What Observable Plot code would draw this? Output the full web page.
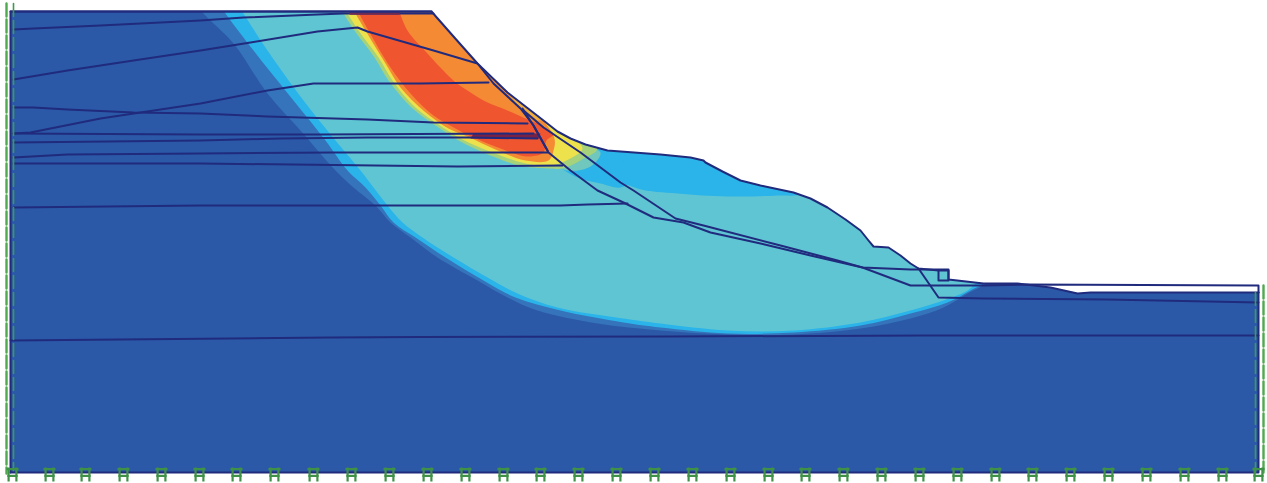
<!DOCTYPE html>
<html><head><meta charset="utf-8">
<script src="https://cdn.jsdelivr.net/npm/d3@7"></script>
<script src="https://cdn.jsdelivr.net/npm/@observablehq/plot@0.6"></script>
<style>html,body{margin:0;padding:0;background:#fff;overflow:hidden}svg{display:block;filter:blur(0.6px)}</style>
</head><body><div id="chart"></div>
<script>
// Model outline and zones, read in picture units (x rightwards, depth downwards)
const ground = [[10,11],[1258,11],[1258,472],[10,472]];
const surface = [[10,11],[431,11],[453,36],[477,63],[507,92],[525,106],[543,120],[557,131],[570,138],[585,144],[607,150],[660,154],[690,157],[703,160],[705,162],[722,171],[740,180],[760,185],[793,192],[810,198],[827,207],[845,219],[860,230],[868,240],[873,246],[888,247],[900,255],[910,263],[918,268],[938,270],[948,270],[948,279],[983,283],[1017,283],[1050,287],[1077,293],[1090,292],[1258,292]];
const mediumEdge = [[197,5],[203,13],[233,43],[267,93],[300,130],[335,170],[353,187],[375,205],[390,222],[410,237],[437,257],[477,280],[507,297],[537,310],[597,323],[660,330],[727,334],[793,334],[860,328],[910,318],[943,307],[967,293],[990,280]];
const lightEdge = [[220,5],[225,13],[253,50],[293,100],[325,140],[347,170],[365,187],[380,205],[393,222],[415,237],[445,257],[483,280],[515,297],[560,310],[623,322],[660,327],[727,333],[793,332],[860,325],[910,313],[947,302],[970,290],[987,280]];
const tealEdge = [[238,5],[243,13],[267,50],[303,100],[335,140],[360,170],[373,187],[387,205],[402,222],[422,237],[453,257],[487,277],[517,293],[557,307],[623,318],[660,323],[727,330],[793,330],[860,322],[910,310],[943,300],[967,290],[978,280]];
const upperBlue = [[606,146],[597,153],[593,160],[607,173],[637,188],[677,193],[727,196],[777,195],[800,193],[800,180],[700,150]];
const lowerBlue = [[555,160],[560,167],[577,177],[600,183],[620,187],[630,180],[612,150],[570,150]];
const tealPatch = [[549,160],[566,170],[590,166],[600,152],[580,145],[555,145]];
const greenEdge = [[340,8],[354,30],[374,57],[388,80],[411,107],[438,127],[460,141],[490,155],[523,166],[550,168],[562,168],[580,160],[597,148],[570,132],[431,8]];
const yellowEdge = [[344,8],[358,30],[378,57],[392,80],[415,107],[441,126],[462,139],[492,152],[525,163],[550,165],[566,160],[582,148],[565,132],[431,8]];
const orangeEdge = [[352,8],[365,30],[385,63],[400,87],[424,111],[448,128],[467,136],[495,149],[525,160],[548,160],[553,150],[553,135],[431,8]];
const redEdge = [[356,8],[368,30],[390,67],[410,93],[433,115],[455,128],[473,137],[500,148],[520,155],[530,156],[543,152],[546,140],[553,134],[543,126],[525,118],[507,110],[483,100],[467,90],[453,80],[427,53],[407,30],[398,8]];
const slopeYellow = [[507,92],[525,106],[543,120],[537,120],[515,102]];
const maroonZone = [[473,133],[540,133],[538,138],[470,138]];
const maroonTop = [[350,13],[398,13]];

// Geological layer lines
const layerLines = [
  [[13,29],[33,28],[100,25],[200,20],[243,17],[317,14],[343,13],[433,13]],
  [[13,79],[67,70],[133,60],[200,50],[250,42],[317,31],[357,27],[367,31],[433,50],[477,63],[493,83],[520,108],[533,125],[547,150]],
  [[13,133],[30,132],[100,118],[140,112],[200,103],[267,90],[313,83],[420,83],[488,82]],
  [[13,107],[33,107],[67,109],[133,112],[200,113],[267,116],[367,119],[433,122],[527,123]],
  [[13,133],[200,134],[320,134],[533,133]],
  [[13,142],[200,140],[280,138],[367,137],[467,137],[537,138]],
  [[13,157],[67,154],[200,153],[333,152],[547,152]],
  [[13,163],[200,163],[457,166],[562,165]],
  [[13,207],[200,205],[560,205],[587,204],[627,203]],
  [[10,340],[330,337],[420,336.5],[670,336],[923,335],[1258,335]]
];
const faultA = [[523,110],[543,127],[580,152],[620,182],[633,190],[675,218],[703,225],[780,245],[837,260],[862,267],[910,269],[948,269],[948,280],[938,280],[938,270]];
const faultB = [[522,108],[533,125],[543,143],[548,152],[570,170],[597,190],[623,202],[653,217],[683,222],[710,232],[760,243],[810,255],[862,267],[910,285],[983,285],[1027,284],[1258,285],[1258,292]];
const faultC = [[918,268],[938,297],[983,298],[1107,299],[1258,302]];
const frame = [[10,472],[10,11],[431,11]];
const rightBottom = [[1258,292],[1258,472],[10,472]];

// Supports
const supportX = [12,49,85,123,161,199,236,274,313,351,389,427,465,503,540,578,616,654,692,730,768,805,843,881,919,957,995,1032,1070,1108,1146,1184,1222,1258];
const supportY = supportX.map(() => 474);
const leftOuter = [[6,3],[6,473]];
const leftInner = [[13,3],[13,470]];
const rightOuter = [[1263,285],[1263,472]];
const rightInner = [[1255,292],[1255,472]];
const hashSymbol = {draw(c,s){const r=Math.sqrt(s);
  c.moveTo(-r*.55,-r);c.lineTo(-r*.55,r);c.moveTo(r*.55,-r);c.lineTo(r*.55,r);
  c.moveTo(-r*.85,-r*.75);c.lineTo(r*.85,-r*.75);c.moveTo(-r*.75,r*.2);c.lineTo(r*.75,r*.2);}};

const X=d=>d[0], Y=d=>d[1];
const zone=(pts,fill,curve="linear")=>Plot.line(pts,{x:X,y:Y,fill,stroke:"none",curve});
const closeRight=e=>[...e,[1020,240],[1267,100],[1267,2],[e[0][0],2]];
const line=(pts,o={})=>Plot.line(pts,{x:X,y:Y,stroke:"#202b7d",strokeWidth:2,...o});

const chart = Plot.plot({
  width:1267,height:483,margin:0,
  x:{domain:[0,1267],axis:null},
  y:{domain:[483,0],axis:null},
  style:{background:"#fff"},
  marks:[
    zone(ground,"#2b59a8"),
    zone(closeRight(mediumEdge),"#3574ba","catmull-rom"),
    zone(closeRight(lightEdge),"#2ab4e9","catmull-rom"),
    zone(closeRight(tealEdge),"#5fc5d3","catmull-rom"),
    zone(upperBlue,"#2ab4e9","catmull-rom"),
    zone(lowerBlue,"#2ab4e9","catmull-rom"),
    zone(tealPatch,"#6fc7bd","catmull-rom"),
    zone(greenEdge,"#a5d27a","catmull-rom"),
    zone(yellowEdge,"#eee24c","catmull-rom"),
    zone(orangeEdge,"#f58a35","catmull-rom"),
    zone(redEdge,"#ef5630","catmull-rom"),
    zone(slopeYellow,"#f0b040"),
    zone(maroonZone,"#7a2146"),
    zone([...surface,[1270,292],[1270,-3],[-3,-3],[-3,11]],"#fff"),
    zone([[-3,-3],[10,-3],[10,486],[-3,486]],"#fff"),
    zone([[1258,-3],[1270,-3],[1270,486],[1258,486]],"#fff"),
    zone([[-3,472],[1270,472],[1270,486],[-3,486]],"#fff"),
    ...layerLines.map(l=>line(l)),
    line(maroonTop,{stroke:"#6d2a55",strokeWidth:2.6}),
    line(faultA),line(faultB),line(faultC),
    line(surface,{strokeWidth:2}),
    line(frame,{strokeWidth:2}),
    line(rightBottom,{strokeWidth:2}),
    line(leftOuter,{stroke:"#4fa94f",strokeWidth:2.4,strokeDasharray:"13,3"}),
    line(leftInner,{stroke:"#3f9a4f",strokeWidth:1.6,strokeDasharray:"13,4"}),
    line(rightOuter,{stroke:"#4fa94f",strokeWidth:2.4,strokeDasharray:"13,3"}),
    line(rightInner,{stroke:"#3f9a4f",strokeWidth:1.6,strokeDasharray:"13,4"}),
    Plot.dot(supportX,{x:d=>d,y:(d,i)=>supportY[i],symbol:hashSymbol,r:4,stroke:"#3f9147",strokeWidth:2.2,fill:"none"})
  ]
});
document.getElementById("chart").append(chart);
</script></body></html>
